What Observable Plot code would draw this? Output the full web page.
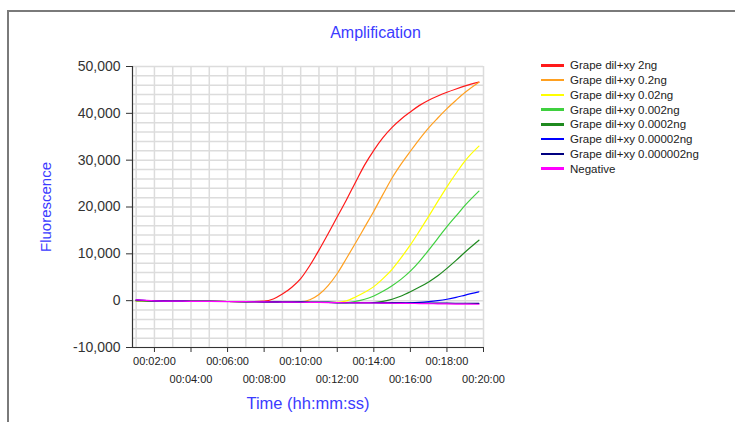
<!DOCTYPE html>
<html>
<head>
<meta charset="utf-8">
<script src="https://cdn.jsdelivr.net/npm/d3@7"></script>
<script src="https://cdn.jsdelivr.net/npm/@observablehq/plot@0.6"></script>
<style>
  html, body { margin: 0; padding: 0; background: #fff; }
  body { font-family: "Liberation Sans", Arial, sans-serif; }
  #wrap { position: relative; width: 735px; height: 422px; overflow: hidden; background: #fff; }
  #frame { position: absolute; left: 7px; top: 10px; width: 760px; height: 440px;
           border-top: 2px solid #7a7a7a; border-left: 2px solid #7a7a7a; box-sizing: border-box; }
  #chart { position: absolute; left: 0; top: 0; }
  #legend { position: absolute; left: 541px; top: 58px; font-size: 11.5px; color: #222; }
  .row { display: flex; align-items: center; height: 14.75px; white-space: nowrap; }
  .sw { width: 23px; height: 2.5px; margin-right: 6px; }
</style>
</head>
<body>
<div id="wrap">
  <div id="frame"></div>
  <div id="chart"></div>
  <div id="legend"></div>
</div>
<script>
// ---- data (time in minutes, fluorescence values) ----
const minutes = [1,2,3,4,5,6,7,8,8.5,9,9.5,10,10.5,11,11.5,12,12.5,13,13.5,14,14.5,15,15.5,16,16.5,17,17.5,18,18.5,19,19.75];

const seriesNames = [
  "Grape dil+xy 2ng",
  "Grape dil+xy 0.2ng",
  "Grape dil+xy 0.02ng",
  "Grape dil+xy 0.002ng",
  "Grape dil+xy 0.0002ng",
  "Grape dil+xy 0.00002ng",
  "Grape dil+xy 0.000002ng",
  "Negative"
];
const seriesColors = ["#ff1a1a","#ffa020","#ffff00","#3fd03f","#1f8a1f","#0000ff","#000080","#ff00ff"];

const s2ng      = [0,-50,-90,-120,-150,-180,-210,-100,350,1400,2800,4700,7500,10800,14300,17900,21500,25300,29000,32100,34800,37000,38800,40300,41700,42800,43700,44500,45200,45850,46650];
const s02ng     = [0,-50,-90,-120,-150,-180,-210,-250,-260,-280,-290,-250,200,1300,3200,5800,9000,12300,15700,19100,22700,26200,29200,31900,34500,36900,39000,41000,42800,44500,46650];
const s002ng    = [0,-50,-90,-120,-150,-180,-210,-250,-260,-280,-300,-320,-340,-360,-380,-350,-50,800,1800,3000,4700,6700,9200,11900,14900,18000,21200,24300,27200,29900,33000];
const s0002ng   = [0,-50,-90,-120,-150,-180,-210,-250,-260,-280,-300,-320,-340,-360,-380,-400,-400,-150,300,1000,2000,3200,4600,6300,8400,10800,13300,15800,18100,20400,23400];
const s00002ng  = [0,-50,-90,-120,-150,-180,-210,-250,-260,-280,-300,-320,-340,-360,-380,-400,-420,-430,-430,-400,-150,300,1000,1900,2900,4000,5300,6900,8600,10400,12900];
const s000002ng = [200,-50,-90,-120,-150,-180,-210,-250,-260,-280,-300,-320,-340,-360,-380,-400,-420,-430,-440,-450,-470,-480,-480,-460,-380,-220,0,300,700,1200,1900];
const s0000002ng= [100,-50,-90,-120,-150,-180,-210,-250,-260,-280,-300,-320,-340,-360,-380,-400,-420,-430,-440,-450,-470,-480,-490,-500,-510,-520,-530,-540,-550,-555,-560];
const sNeg      = [150,-50,-100,-130,-160,-190,-220,-260,-280,-300,-320,-340,-360,-380,-400,-420,-440,-460,-480,-500,-520,-550,-570,-600,-620,-650,-670,-700,-720,-740,-760];

const seriesValues = [s2ng, s02ng, s002ng, s0002ng, s00002ng, s000002ng, s0000002ng, sNeg];

const yTicks = [-10000, 0, 10000, 20000, 30000, 40000, 50000];
const xTicksRow1 = [2, 6, 10, 14, 18];
const xTicksRow2 = [4, 8, 12, 16, 20];

// ---- build table ----
const rows = [];
seriesNames.forEach((name, i) => {
  seriesValues[i].forEach((v, j) => rows.push({series: name, t: minutes[j], v}));
});

const pad = n => String(n).padStart(2, "0");
const fmtTime = m => `00:${pad(Math.floor(m))}:${pad(Math.round((m % 1) * 60))}`;
const fmtNum = d => d.toLocaleString("en-US");
const blue = "#3b3bff";

const chart = Plot.plot({
  width: 735,
  height: 422,
  marginLeft: 132,
  marginRight: 252,
  marginTop: 66,
  marginBottom: 75,
  style: {fontFamily: "'Liberation Sans', Arial, sans-serif", background: "transparent", overflow: "visible"},
  x: {type: "linear", domain: [0.8, 20]},
  y: {domain: [-10000, 50000]},
  color: {domain: seriesNames, range: seriesColors},
  marks: [
    Plot.gridX(d3.range(1, 21), {stroke: "#dcdcdc", strokeOpacity: 1, strokeWidth: 1.5}),
    Plot.gridY(d3.range(-10000, 50001, 2000), {stroke: "#dcdcdc", strokeOpacity: 1, strokeWidth: 1.5}),
    Plot.axisY(yTicks, {tickFormat: fmtNum, tickSize: 6, tickPadding: 6, fontSize: 14, fill: "#333", stroke: "#333", label: null}),
    Plot.axisX(xTicksRow1, {tickFormat: fmtTime, tickSize: 5, tickPadding: 5, fontSize: 11, fill: "#222", stroke: "#333", label: null}),
    Plot.axisX(xTicksRow2, {tickFormat: fmtTime, tickSize: 5, tickPadding: 23, fontSize: 11, fill: "#222", stroke: "#333", label: null}),
    Plot.ruleX([0.8], {stroke: "#333", strokeWidth: 1.2}),
    Plot.ruleY([-10000], {stroke: "#333", strokeWidth: 1.2}),
    Plot.line(rows, {x: "t", y: "v", z: "series", stroke: "series", strokeWidth: 1.2, curve: "monotone-x"}),
    Plot.text(["Amplification"], {frameAnchor: "top", lineAnchor: "middle", textAnchor: "middle", dx: 67.5, dy: -34, fontSize: 16, fill: blue}),
    Plot.text(["Fluorescence"], {frameAnchor: "left", lineAnchor: "middle", textAnchor: "middle", dx: -86, rotate: -90, fontSize: 15, fill: blue}),
    Plot.text(["Time (hh:mm:ss)"], {frameAnchor: "bottom", lineAnchor: "middle", textAnchor: "middle", dy: 56, fontSize: 16.5, fill: blue})
  ]
});
document.getElementById("chart").appendChild(chart);

// ---- legend ----
const legend = document.getElementById("legend");
seriesNames.forEach((name, i) => {
  const row = document.createElement("div");
  row.className = "row";
  const sw = document.createElement("div");
  sw.className = "sw";
  sw.style.background = seriesColors[i];
  const label = document.createElement("span");
  label.textContent = name;
  row.appendChild(sw);
  row.appendChild(label);
  legend.appendChild(row);
});
</script>
</body>
</html>
